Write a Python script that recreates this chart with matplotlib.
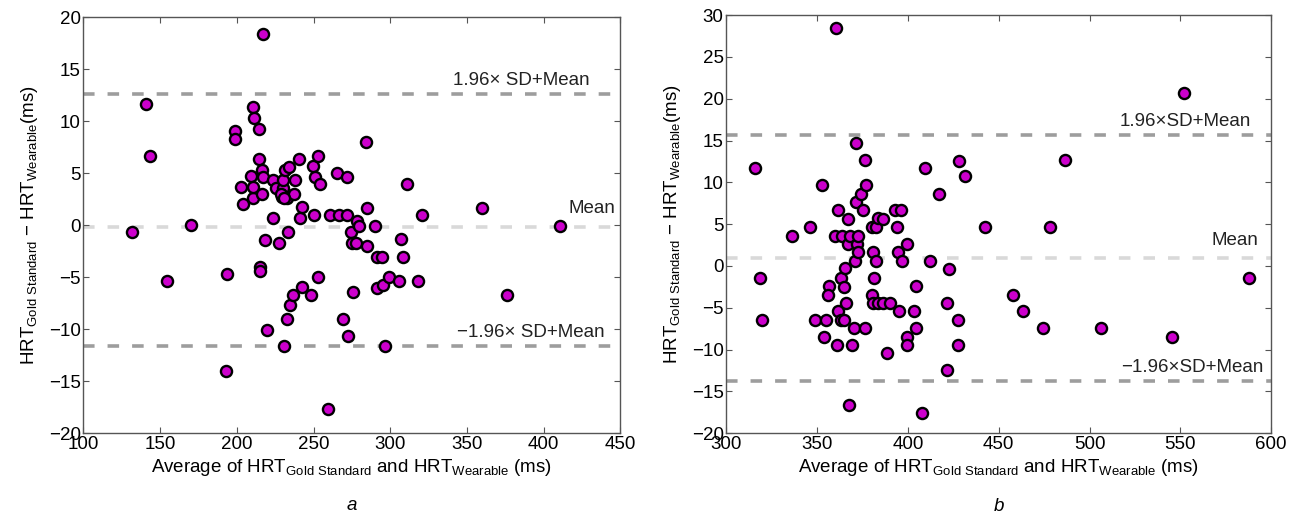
import matplotlib
matplotlib.use("Agg")
import matplotlib.pyplot as plt

plt.rcParams["font.family"] = ["Liberation Sans", "DejaVu Sans"]
plt.rcParams["mathtext.default"] = "regular"

# panel a: average vs difference (ms)
A_AVG = [131.6, 140.8, 143.4, 154.5, 170.2, 193.4, 192.7, 198.7, 198.7, 202.6,
         204.2, 209.3, 210.3, 210.8, 210.8, 211.3, 214.3, 214.3, 216.1, 216.1,
         217.2, 217.3, 215.0, 215.4, 218.3, 219.5, 223.3, 223.5, 225.5, 229.2,
         230.3, 230.3, 231.4, 232.5, 234.0, 231.0, 233.0, 234.7, 236.3, 237.4,
         238.0, 240.5, 227.6, 233.2, 241.2, 242.7, 242.3, 248.5, 249.9, 250.1,
         251.0, 252.6, 253.2, 253.9, 259.4, 260.5, 265.5, 266.5, 269.2, 271.7,
         272.0, 272.6, 274.3, 275.0, 275.6, 277.7, 278.2, 279.9, 284.2, 284.7,
         284.7, 290.1, 291.2, 291.2, 294.5, 295.1, 296.8, 299.5, 306.0, 306.9,
         308.2, 311.2, 318.4, 320.6, 359.7, 376.4, 410.8, 229.0, 231.0]
A_DIFF = [-0.66, 11.65, 6.68, -5.37, 0.0, -4.66, -14.05, 9.05, 8.3, 3.65,
          2.05, 4.7, 2.65, 3.64, 11.36, 10.3, 9.28, 6.36, 5.27, 3.02,
          4.65, 18.35, -4.05, -4.45, -1.4, -10.05, 4.3, 0.7, 3.57, 2.7,
          3.57, 4.3, 5.3, 2.6, 5.6, -11.65, -9.05, -7.7, -6.68, 3.02,
          4.35, 6.36, -1.7, -0.67, 0.67, 1.75, -5.98, -6.68, 5.68, 0.97,
          4.67, -4.98, 6.69, 3.96, -17.65, 0.97, 4.99, 1.0, -9.02, 4.62,
          1.0, -10.7, -0.7, -1.71, -6.38, -1.71, 0.37, -0.05, 7.96, 1.62,
          -2.04, -0.05, -3.03, -6.04, -3.03, -5.72, -11.65, -4.98, -5.4, -1.33,
          -3.03, 3.99, -5.4, 0.98, 1.62, -6.68, -0.05, 3.0, 2.6]
A_LIMITS = [12.6, -0.15, -11.6]

# panel b
B_AVG = [315.7, 318.4, 319.7, 336.0, 346.2, 348.7, 352.6, 353.7, 354.8, 356.6,
         356.1, 359.7, 360.1, 361.3, 361.6, 361.0, 363.5, 363.0, 363.0, 364.9,
         364.9, 365.3, 365.8, 366.9, 367.1, 367.6, 368.0, 368.9, 370.2, 370.8,
         371.1, 371.5, 371.7, 372.3, 372.6, 373.9, 375.3, 376.1, 376.3, 376.6,
         380.0, 380.0, 380.8, 380.8, 381.2, 382.3, 382.3, 383.6, 383.6, 386.3,
         386.3, 388.6, 390.0, 393.0, 394.0, 394.6, 395.2, 396.0, 396.5, 399.2,
         399.2, 399.2, 403.3, 404.5, 404.5, 407.5, 409.5, 412.0, 417.2, 421.3,
         421.6, 422.6, 427.3, 427.6, 428.0, 431.3, 442.2, 457.9, 463.1, 474.1,
         478.1, 486.4, 506.2, 545.5, 552.1, 587.9]
B_DIFF = [11.68, -1.44, -6.46, 3.63, 4.65, -6.46, 9.65, -8.45, -6.46, -2.35,
          -3.43, 3.63, 28.4, 6.7, -5.42, -9.41, 3.63, -1.44, -6.46, -2.47,
          -6.46, -0.2, -4.47, 5.65, 2.63, -16.6, 3.63, -9.41, -7.42, 0.63,
          14.7, 7.65, 2.63, 3.63, 1.64, 8.65, 6.65, 12.65, -7.42, 9.7,
          4.7, -3.43, 1.64, -4.47, -1.44, 4.7, 0.56, 5.7, -4.47, 5.65,
          -4.47, -10.45, -4.47, 6.7, 4.65, 1.64, -5.42, 6.7, 0.56, 2.65,
          -8.45, -9.41, -5.42, -2.45, -7.43, -17.6, 11.68, 0.62, 8.62, -12.5,
          -4.47, -0.4, -9.45, -6.46, 12.6, 10.7, 4.63, -3.43, -5.42, -7.45,
          4.63, 12.64, -7.45, -8.45, 20.7, -1.44]
B_LIMITS = [15.7, 0.9, -13.8]

A_LABELS = ["1.96\u00d7 SD+Mean", "Mean", "\u22121.96\u00d7 SD+Mean"]
B_LABELS = ["1.96\u00d7SD+Mean", "Mean", "\u22121.96\u00d7SD+Mean"]

XLABEL = r"Average of HRT$_{Gold\ Standard}$ and HRT$_{Wearable}$ (ms)"
YLABEL = r"HRT$_{Gold\ Standard}$ $-$ HRT$_{Wearable}$(ms)"

LINE_COLORS = ["#9d9d9d", "#d9d9d9", "#9d9d9d"]
FS = 13.5


def draw_panel(ax, avg, diff, limits, labels, xlim, ylim, label_pos, letter):
    for y, c in zip(limits, LINE_COLORS):
        ax.axhline(y, color=c, lw=2.6, dashes=(3.2, 3.6), zorder=1)
    ax.plot(avg, diff, "o", ms=8, mfc="#cc00cc", mec="black", mew=1.7,
            linestyle="none", zorder=3)
    for (tx, ty), txt in zip(label_pos, labels):
        ax.text(tx, ty, txt, ha="right", va="center", fontsize=FS, color="#222222")
    ax.set_xlim(*xlim)
    ax.set_ylim(*ylim)
    ax.tick_params(direction="in", top=True, right=True, length=4,
                   width=0.8, color="#555555", labelsize=FS, pad=2)
    for s in ax.spines.values():
        s.set_color("#555555")
        s.set_linewidth(1.0)
    ax.set_xlabel(XLABEL, fontsize=FS, labelpad=3)
    ax.set_ylabel(YLABEL, fontsize=FS, labelpad=6)
    ax.text(0.5, -0.175, letter, transform=ax.transAxes, ha="center",
            va="center", fontsize=FS, style="italic")


fig = plt.figure(figsize=(13, 5.2), dpi=100)
ax_a = fig.add_axes([0.0642, 0.167, 0.413, 0.8])
ax_b = fig.add_axes([0.5588, 0.167, 0.419, 0.804])

draw_panel(ax_a, A_AVG, A_DIFF, A_LIMITS, A_LABELS, (100, 450), (-20, 20),
           [(430, 13.9), (447, 1.6), (440, -10.3)], "a")
ax_a.set_xticks(range(100, 451, 50))
ax_a.set_yticks(range(-20, 21, 5))

draw_panel(ax_b, B_AVG, B_DIFF, B_LIMITS, B_LABELS, (300, 600), (-20, 30),
           [(589, 17.3), (593, 3.0), (596, -12.1)], "b")
ax_b.set_xticks(range(300, 601, 50))
ax_b.set_yticks(range(-20, 31, 5))

fig.savefig("out.png", dpi=100)
